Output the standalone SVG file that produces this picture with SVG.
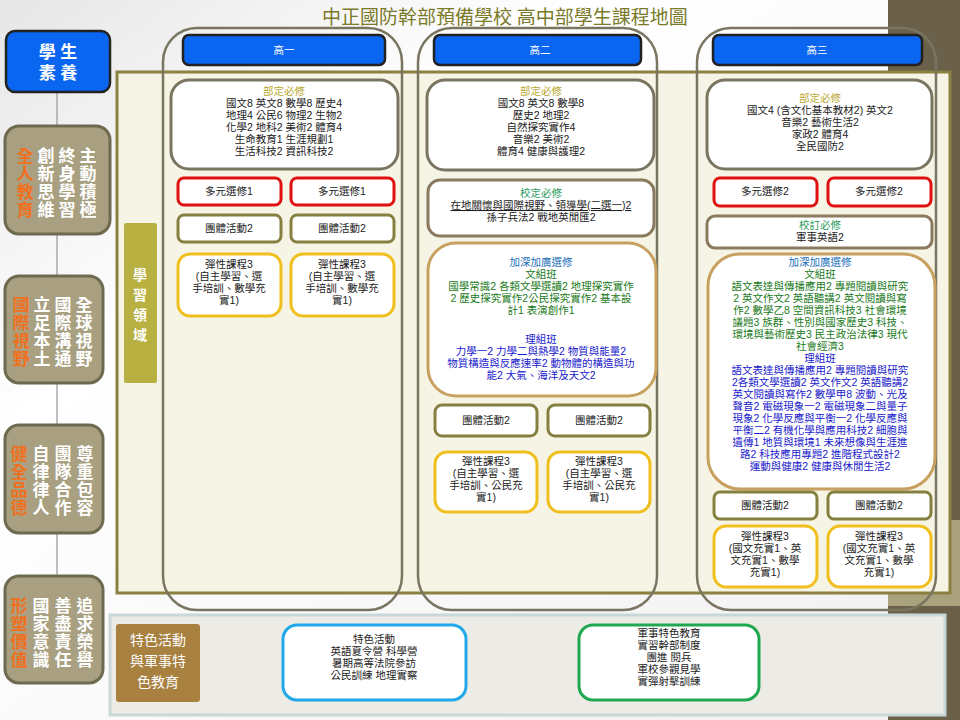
<svg xmlns="http://www.w3.org/2000/svg" width="960" height="720" viewBox="0 0 960 720">
<defs>
<linearGradient id="bg" x1="0" y1="0" x2="1" y2="1"><stop offset="0" stop-color="#e6e6e6"/><stop offset="0.3" stop-color="#ffffff"/><stop offset="1" stop-color="#f0f0f0"/></linearGradient>
<style>
text{font-family:"Liberation Sans","Noto Sans CJK TC",sans-serif;font-size:10.5px;text-anchor:middle;fill:#222}
.w{fill:#fff}
.hd{fill:#b8a830}
.sch{fill:#2a9a60}
.adv{fill:#1a70b8}
.g{fill:#1a7a1a}
.b{fill:#1a1acc}
.card{fill:#fff;stroke:#7a7560;stroke-width:3}
.red{fill:#fff;stroke:#e01010;stroke-width:3}
.grp{fill:#fff;stroke:#858040;stroke-width:3}
.yel{fill:#fff;stroke:#f0c020;stroke-width:3}
.tan{fill:#fff;stroke:#c8a060;stroke-width:3}
.bro{fill:#fff;stroke:#8a7a60;stroke-width:3}
.col{fill:none;stroke:#7a7560;stroke-width:2.5}
.head{fill:#0a66f0;stroke:#222;stroke-width:2.5}
.side{fill:#a8a080;stroke:#6e6a50;stroke-width:3}
.st{font-size:17px;fill:#fff;font-weight:bold}
.so{font-size:17px;fill:#f07020;font-weight:bold}
</style>
</defs>
<rect width="960" height="720" fill="url(#bg)"/>
<rect x="888" y="0" width="72" height="720" fill="#6b604a"/>
<rect x="888" y="520" width="72" height="86" fill="#aaa27c"/>
<text x="505" y="24" style="font-family:'Liberation Serif','Noto Sans CJK TC',serif;font-size:19px;fill:#7a7a28">中正國防幹部預備學校 高中部學生課程地圖</text>

<g id="connectors"><line x1="57" y1="92" x2="57" y2="580" stroke="#aaa" stroke-width="1.5"/></g>

<g id="main-area"><rect x="117" y="72" width="833" height="521" fill="#f6f4e4" stroke="#8a8040" stroke-width="3"/></g>
<g id="domain"><rect x="124" y="223" width="33" height="160" rx="2" fill="#b8b040"/>
<text x="140" y="280" class="w" style="font-size:14px;font-weight:bold">學</text><text x="140" y="300" class="w" style="font-size:14px;font-weight:bold">習</text><text x="140" y="320" class="w" style="font-size:14px;font-weight:bold">領</text><text x="140" y="340" class="w" style="font-size:14px;font-weight:bold">域</text></g>

<g id="competency">
<rect x="6" y="31" width="104" height="61" rx="9" fill="#0a66f0" stroke="#222" stroke-width="2.5"/>
<text x="58" y="58" class="w" style="font-size:17px;font-weight:bold">學 生</text><text x="58" y="79" class="w" style="font-size:17px;font-weight:bold">素 養</text>
</g>
<g id="c1"><rect x="5" y="126" width="105" height="108" rx="14" class="side"/>
<text x="25" y="162" class="so">全</text><text x="25" y="180" class="so">人</text><text x="25" y="198" class="so">教</text><text x="25" y="216" class="so">育</text>
<text x="46" y="162" class="st">創</text><text x="46" y="180" class="st">新</text><text x="46" y="198" class="st">思</text><text x="46" y="216" class="st">維</text>
<text x="67" y="162" class="st">終</text><text x="67" y="180" class="st">身</text><text x="67" y="198" class="st">學</text><text x="67" y="216" class="st">習</text>
<text x="88" y="162" class="st">主</text><text x="88" y="180" class="st">動</text><text x="88" y="198" class="st">積</text><text x="88" y="216" class="st">極</text></g>
<g id="c2"><rect x="5" y="276" width="98" height="107" rx="14" class="side"/>
<text x="21" y="311" class="so">國</text><text x="21" y="329" class="so">際</text><text x="21" y="347" class="so">視</text><text x="21" y="365" class="so">野</text>
<text x="42" y="311" class="st">立</text><text x="42" y="329" class="st">足</text><text x="42" y="347" class="st">本</text><text x="42" y="365" class="st">土</text>
<text x="63" y="311" class="st">國</text><text x="63" y="329" class="st">際</text><text x="63" y="347" class="st">溝</text><text x="63" y="365" class="st">通</text>
<text x="84" y="311" class="st">全</text><text x="84" y="329" class="st">球</text><text x="84" y="347" class="st">視</text><text x="84" y="365" class="st">野</text></g>
<g id="c3"><rect x="5" y="425" width="98" height="108" rx="14" class="side"/>
<text x="19" y="460" class="so">健</text><text x="19" y="478" class="so">全</text><text x="19" y="496" class="so">品</text><text x="19" y="514" class="so">德</text>
<text x="41" y="460" class="st">自</text><text x="41" y="478" class="st">律</text><text x="41" y="496" class="st">律</text><text x="41" y="514" class="st">人</text>
<text x="63" y="460" class="st">團</text><text x="63" y="478" class="st">隊</text><text x="63" y="496" class="st">合</text><text x="63" y="514" class="st">作</text>
<text x="85" y="460" class="st">尊</text><text x="85" y="478" class="st">重</text><text x="85" y="496" class="st">包</text><text x="85" y="514" class="st">容</text></g>
<g id="c4"><rect x="5" y="576" width="98" height="107" rx="14" class="side"/>
<text x="19" y="612" class="so">形</text><text x="19" y="630" class="so">塑</text><text x="19" y="648" class="so">價</text><text x="19" y="666" class="so">值</text>
<text x="41" y="612" class="st">國</text><text x="41" y="630" class="st">家</text><text x="41" y="648" class="st">意</text><text x="41" y="666" class="st">識</text>
<text x="63" y="612" class="st">善</text><text x="63" y="630" class="st">盡</text><text x="63" y="648" class="st">責</text><text x="63" y="666" class="st">任</text>
<text x="85" y="612" class="st">追</text><text x="85" y="630" class="st">求</text><text x="85" y="648" class="st">榮</text><text x="85" y="666" class="st">譽</text></g>

<g id="grade1">
<rect x="163" y="28" width="239" height="582" rx="34" class="col"/>
<rect x="183" y="35" width="202" height="30" rx="6" class="head"/><text x="284" y="54" class="w">高一</text>
<rect x="171" y="80" width="227" height="89" rx="18" class="card"/>
<text x="284" y="95" class="hd">部定必修</text>
<text x="284" y="107">國文8 英文8 數學8 歷史4</text><text x="284" y="119">地理4 公民6 物理2 生物2</text><text x="284" y="131">化學2 地科2 美術2 體育4</text><text x="284" y="143">生命教育1 生涯規劃1</text><text x="284" y="155">生活科技2 資訊科技2</text>
<rect x="178" y="178" width="103" height="27" rx="6" class="red"/><text x="229" y="195">多元選修1</text>
<rect x="291" y="178" width="103" height="27" rx="6" class="red"/><text x="342" y="195">多元選修1</text>
<rect x="178" y="215" width="103" height="27" rx="6" class="grp"/><text x="229" y="232">團體活動2</text>
<rect x="291" y="215" width="103" height="27" rx="6" class="grp"/><text x="342" y="232">團體活動2</text>
<rect x="178" y="254" width="103" height="62" rx="12" class="yel"/><text x="229" y="268">彈性課程3</text><text x="229" y="280">(自主學習、選</text><text x="229" y="292">手培訓、數學充</text><text x="229" y="304">實1)</text>
<rect x="291" y="254" width="103" height="62" rx="12" class="yel"/><text x="342" y="268">彈性課程3</text><text x="342" y="280">(自主學習、選</text><text x="342" y="292">手培訓、數學充</text><text x="342" y="304">實1)</text>
</g>

<g id="grade2">
<rect x="418" y="28" width="239" height="582" rx="34" class="col"/>
<rect x="434" y="35" width="207" height="30" rx="6" class="head"/><text x="540" y="54" class="w">高二</text>
<rect x="427" y="80" width="227" height="90" rx="18" class="card"/>
<text x="541" y="95" class="hd">部定必修</text>
<text x="541" y="107">國文8 英文8 數學8</text><text x="541" y="119">歷史2 地理2</text><text x="541" y="131">自然探究實作4</text><text x="541" y="143">音樂2 美術2</text><text x="541" y="155">體育4 健康與護理2</text>
<rect x="428" y="180" width="226" height="56" rx="12" class="bro"/>
<text x="541" y="197" class="sch">校定必修</text>
<text x="541" y="209" text-decoration="underline">在地關懷與國際視野、領導學(二選一)2</text>
<text x="541" y="221">孫子兵法2 戰地英閒匯2</text>
<rect x="428" y="243" width="228" height="153" rx="28" class="tan"/>
<text x="541" y="266" class="adv">加深加廣選修</text>
<text x="541" y="278" class="g">文組班</text>
<text x="541" y="290" class="g">國學常識2 各類文學選讀2 地理探究實作</text>
<text x="541" y="302" class="g">2 歷史探究實作2公民探究實作2 基本設</text>
<text x="541" y="314" class="g">計1 表演創作1</text>
<text x="541" y="343" class="b">理組班</text>
<text x="541" y="355" class="b">力學一2 力學二與熱學2 物質與能量2</text>
<text x="541" y="367" class="b">物質構造與反應速率2 動物體的構造與功</text>
<text x="541" y="379" class="b">能2 大氣、海洋及天文2</text>
<rect x="435" y="405" width="102" height="31" rx="7" class="grp"/><text x="486" y="424">團體活動2</text>
<rect x="548" y="405" width="102" height="31" rx="7" class="grp"/><text x="599" y="424">團體活動2</text>
<rect x="435" y="452" width="102" height="60" rx="12" class="yel"/><text x="486" y="465">彈性課程3</text><text x="486" y="477">(自主學習、選</text><text x="486" y="489">手培訓、公民充</text><text x="486" y="501">實1)</text>
<rect x="548" y="452" width="102" height="60" rx="12" class="yel"/><text x="599" y="465">彈性課程3</text><text x="599" y="477">(自主學習、選</text><text x="599" y="489">手培訓、公民充</text><text x="599" y="501">實1)</text>
</g>

<g id="grade3">
<rect x="697" y="28" width="239" height="582" rx="34" class="col"/>
<rect x="713" y="35" width="209" height="30" rx="6" class="head"/><text x="817" y="54" class="w">高三</text>
<rect x="707" y="80" width="225" height="89" rx="18" class="card"/>
<text x="820" y="102" class="hd">部定必修</text>
<text x="820" y="114">國文4 (含文化基本教材2) 英文2</text><text x="820" y="126">音樂2 藝術生活2</text><text x="820" y="138">家政2 體育4</text><text x="820" y="150">全民國防2</text>
<rect x="714" y="178" width="103" height="28" rx="6" class="red"/><text x="765" y="195">多元選修2</text>
<rect x="828" y="178" width="103" height="28" rx="6" class="red"/><text x="879" y="195">多元選修2</text>
<rect x="707" y="216" width="225" height="32" rx="8" class="bro"/>
<text x="820" y="229" class="sch">校訂必修</text><text x="820" y="241">軍事英語2</text>
<rect x="708" y="254" width="227" height="235" rx="32" class="tan"/>
<text x="820" y="266" class="adv">加深加廣選修</text>
<text x="820" y="278" class="g">文組班</text>
<text x="820" y="290" class="g">語文表達與傳播應用2 專題閱讀與研究</text>
<text x="820" y="302" class="g">2 英文作文2 英語聽講2 英文閱讀與寫</text>
<text x="820" y="314" class="g">作2 數學乙8 空間資訊科技3 社會環境</text>
<text x="820" y="326" class="g">議題3 族群、性別與國家歷史3 科技、</text>
<text x="820" y="338" class="g">環境與藝術歷史3 民主政治法律3 現代</text>
<text x="820" y="350" class="g">社會經濟3</text>
<text x="820" y="362" class="b">理組班</text>
<text x="820" y="374" class="b">語文表達與傳播應用2 專題閱讀與研究</text>
<text x="820" y="386" class="b">2各類文學選讀2 英文作文2 英語聽講2</text>
<text x="820" y="398" class="b">英文閱讀與寫作2 數學甲8 波動、光及</text>
<text x="820" y="410" class="b">聲音2 電磁現象一2 電磁現象二與量子</text>
<text x="820" y="422" class="b">現象2 化學反應與平衡一2 化學反應與</text>
<text x="820" y="434" class="b">平衡二2 有機化學與應用科技2 細胞與</text>
<text x="820" y="446" class="b">遺傳1 地質與環境1 未來想像與生涯進</text>
<text x="820" y="458" class="b">路2 科技應用專題2 進階程式設計2</text>
<text x="820" y="470" class="b">運動與健康2 健康與休閒生活2</text>
<rect x="714" y="492" width="103" height="27" rx="6" class="grp"/><text x="765" y="509">團體活動2</text>
<rect x="828" y="492" width="103" height="27" rx="6" class="grp"/><text x="879" y="509">團體活動2</text>
<rect x="714" y="526" width="103" height="61" rx="12" class="yel"/><text x="765" y="540">彈性課程3</text><text x="765" y="552">(國文充實1、英</text><text x="765" y="564">文充實1、數學</text><text x="765" y="576">充實1)</text>
<rect x="828" y="526" width="103" height="61" rx="12" class="yel"/><text x="879" y="540">彈性課程3</text><text x="879" y="552">(國文充實1、英</text><text x="879" y="564">文充實1、數學</text><text x="879" y="576">充實1)</text>
</g>

<g id="special">
<rect x="110" y="615" width="835" height="100" fill="#ecebe5" stroke="#c8d8d8" stroke-width="3"/>
<rect x="116" y="624" width="84" height="78" rx="3" fill="#a88040"/>
<text x="158" y="645" class="w" style="font-size:14px">特色活動</text><text x="158" y="666" class="w" style="font-size:14px">與軍事特</text><text x="158" y="687" class="w" style="font-size:14px">色教育</text>
<rect x="283" y="625" width="183" height="75" rx="14" fill="#fff" stroke="#20a8e8" stroke-width="3"/>
<text x="374" y="643">特色活動</text><text x="374" y="655">英語夏令營 科學營</text><text x="374" y="667">暑期高等法院參訪</text><text x="374" y="679">公民訓練 地理實察</text>
<rect x="579" y="625" width="180" height="75" rx="14" fill="#fff" stroke="#20a850" stroke-width="3"/>
<text x="669" y="637">軍事特色教育</text><text x="669" y="649">實習幹部制度</text><text x="669" y="661">團進 閱兵</text><text x="669" y="673">軍校參觀見學</text><text x="669" y="685">實彈射擊訓練</text>
</g>
</svg>
